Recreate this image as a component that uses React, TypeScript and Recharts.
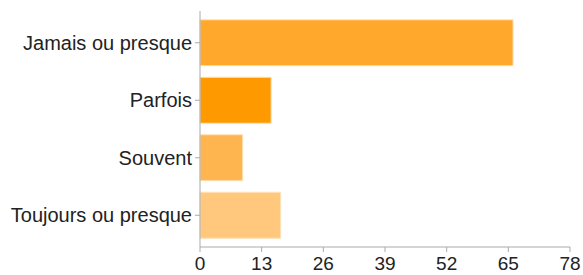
import { Bar, BarChart, Cell, XAxis, YAxis } from 'recharts';

const categories = ['Jamais ou presque', 'Parfois', 'Souvent', 'Toujours ou presque'];
const counts = [66, 15, 9, 17];
const barColors = ['#ffa82b', '#ff9900', '#ffb54f', '#ffc87d'];
const xTicks = [0, 13, 26, 39, 52, 65, 78];

const data = categories.map((name, i) => ({ name, value: counts[i] }));

export default function App() {
  return (
    <div style={{ position: 'absolute', left: 0, top: 0, background: '#fff' }}>
      <BarChart
        width={583}
        height={275}
        data={data}
        layout="vertical"
        margin={{ top: 11, right: 13, bottom: 0, left: 0 }}
        barCategoryGap="10%"
      >
        <XAxis
          type="number"
          domain={[0, 78]}
          ticks={xTicks}
          height={28}
          stroke="#aaa"
          tickSize={5}
          tickMargin={5}
          tick={{ fill: '#222', fontSize: 19, fontFamily: 'Liberation Sans' }}
        />
        <YAxis
          type="category"
          dataKey="name"
          width={200}
          padding={{ top: 3, bottom: 3 }}
          stroke="#aaa"
          tickSize={5}
          tickMargin={3}
          tick={{ fill: '#222', fontSize: 20, fontFamily: 'Liberation Sans' }}
        />
        <Bar dataKey="value" isAnimationActive={false}>
          {data.map((d, i) => (
            <Cell key={d.name} fill={barColors[i]} stroke="#ffe2b8" strokeWidth={1} />
          ))}
        </Bar>
      </BarChart>
    </div>
  );
}
